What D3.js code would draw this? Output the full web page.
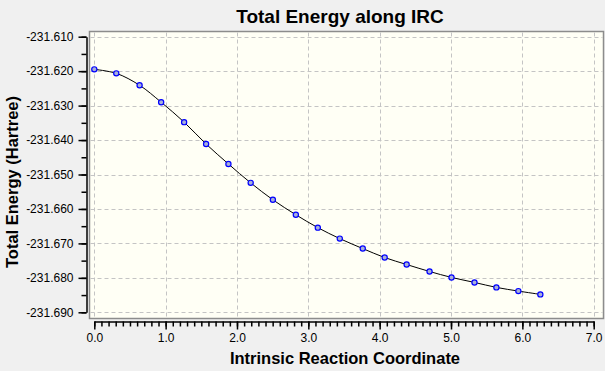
<!DOCTYPE html>
<html><head><meta charset="utf-8">
<script src="https://cdn.jsdelivr.net/npm/d3@7/dist/d3.min.js"></script>
<style>
html,body{margin:0;padding:0;background:#f0f0f0;}
svg{display:block;font-family:"Liberation Sans",Arial,sans-serif;}
</style></head>
<body>
<svg id="c" width="605" height="371"></svg>
<script>
const coords = [0, 0.308, 0.635, 0.937, 1.259, 1.567, 1.880, 2.192, 2.503, 2.825, 3.133, 3.441, 3.763, 4.070, 4.378, 4.699, 5.007, 5.329, 5.636, 5.944, 6.252];
const energies = [-231.61948, -231.62064, -231.62410, -231.62902, -231.63480, -231.64116, -231.64694, -231.65243, -231.65734, -231.66168, -231.66543, -231.66861, -231.67150, -231.67410, -231.67613, -231.67815, -231.67988, -231.68133, -231.68277, -231.68384, -231.68480];
const xTicks = [0,1,2,3,4,5,6,7];
const yTicks = [-231.610,-231.620,-231.630,-231.640,-231.650,-231.660,-231.670,-231.680,-231.690];
const title = "Total Energy along IRC";
const xTitle = "Intrinsic Reaction Coordinate";
const yTitle = "Total Energy (Hartree)";

const svg = d3.select("#c");
const x = d3.scaleLinear().domain([0,7]).range([94.3,593.7]);
const y = d3.scaleLinear().domain([-231.690,-231.610]).range([312.3,36.7]);

// plot area
svg.append("rect").attr("x",89.5).attr("y",31.5).attr("width",514).attr("height",287)
  .attr("fill","#fffff5").attr("stroke","#8c8c8c").attr("stroke-width",1.5);

// grid
const g = svg.append("g").attr("stroke","#c4c4c4").attr("stroke-dasharray","4,3").attr("stroke-width",1);
xTicks.forEach(t=>g.append("line").attr("x1",Math.round(x(t))+0.5).attr("x2",Math.round(x(t))+0.5).attr("y1",32.5).attr("y2",317.5));
yTicks.forEach(t=>g.append("line").attr("y1",Math.round(y(t))+0.5).attr("y2",Math.round(y(t))+0.5).attr("x1",90.5).attr("x2",602.5));

// y axis
const yAxis = d3.axisLeft(y).tickValues(yTicks).tickFormat(d=>d.toFixed(3)).tickSize(8).tickSizeOuter(0).tickPadding(5);
svg.append("g").attr("transform","translate(86.5,0)").call(yAxis);
const yMinor = d3.axisLeft(y).tickValues(d3.range(0,17).map(i=>-231.690+i*0.005)).tickFormat("").tickSize(5).tickSizeOuter(0);
svg.append("g").attr("transform","translate(86.5,0)").call(yMinor).select(".domain").remove();

// x axis
const xAxis = d3.axisBottom(x).tickValues(xTicks).tickFormat(d=>d.toFixed(1)).tickSize(8).tickSizeOuter(0).tickPadding(4);
svg.append("g").attr("transform","translate(0,321.5)").call(xAxis);
const xMinor = d3.axisBottom(x).tickValues(d3.range(0,71).map(i=>i/10)).tickFormat("").tickSize(5).tickSizeOuter(0);
svg.append("g").attr("transform","translate(0,321.5)").call(xMinor).select(".domain").remove();

svg.selectAll(".tick line, .domain").attr("stroke","#000").attr("stroke-width",1.5);
svg.selectAll(".tick text").attr("fill","#000").style("font-size","12px").style("font-family","'Liberation Sans',Arial,sans-serif");

// line
const data = coords.map((c,i)=>({x:c,y:energies[i]}));
svg.append("path").datum(data).attr("fill","none").attr("stroke","#000").attr("stroke-width",1)
  .attr("d",d3.line().x(d=>x(d.x)).y(d=>y(d.y)).curve(d3.curveCatmullRom));
svg.append("g").selectAll("circle").data(data).join("circle")
  .attr("cx",d=>x(d.x)).attr("cy",d=>y(d.y)).attr("r",2.6)
  .attr("fill","#a8b0d8").attr("stroke","#0000ff").attr("stroke-width",1.2);

// titles
svg.append("text").attr("x",340).attr("y",23).attr("text-anchor","middle")
  .style("font-size","19px").style("font-weight","bold").text(title);
svg.append("text").attr("x",345).attr("y",364).attr("text-anchor","middle")
  .style("font-size","16.5px").style("font-weight","bold").text(xTitle);
svg.append("text").attr("transform","translate(18,182) rotate(-90)").attr("text-anchor","middle")
  .style("font-size","16.5px").style("font-weight","bold").text(yTitle);
</script>
</body></html>
